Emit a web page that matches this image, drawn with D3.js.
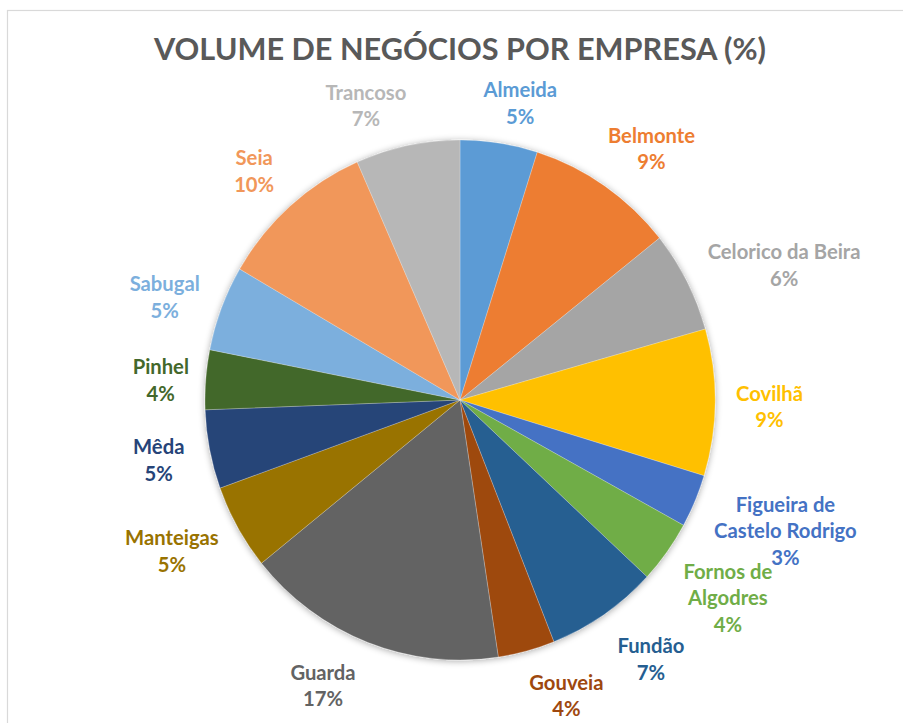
<!DOCTYPE html>
<html>
<head>
<meta charset="utf-8">
<script src="https://cdn.jsdelivr.net/npm/d3@7"></script>
<style>
  html, body { margin: 0; padding: 0; background: #ffffff; }
  svg { display: block; }
</style>
</head>
<body>
<svg id="chart" width="903" height="723"></svg>
<script>
// Turnover share by municipality (%)
const title = "VOLUME DE NEGÓCIOS POR EMPRESA (%)";
const categories = [
  "Almeida", "Belmonte", "Celorico da Beira", "Covilhã",
  "Figueira de Castelo Rodrigo", "Fornos de Algodres", "Fundão", "Gouveia",
  "Guarda", "Manteigas", "Mêda", "Pinhel", "Sabugal", "Seia", "Trancoso"
];
const shares = [4.9, 9.4, 6.3, 9.1, 3.3, 3.9, 7.1, 3.6, 16.6, 5.3, 4.9, 3.7, 5.3, 10.0, 6.6];
const colors = [
  "#5B9BD5", "#ED7D31", "#A5A5A5", "#FFC000", "#4472C4", "#70AD47", "#255E91", "#9E480E",
  "#636363", "#997300", "#264478", "#43682B", "#7CAFDD", "#F1975A", "#B7B7B7"
];
// Long names wrap onto two lines
const wrapped = {
  "Figueira de Castelo Rodrigo": ["Figueira de", "Castelo Rodrigo"],
  "Fornos de Algodres": ["Fornos de", "Algodres"]
};
// Small offsets that spread crowded labels away from each other
const labelNudge = [
  [13, 0], [13, -4], [15, 2], [5, 3], [10, 8], [12, 13], [19, 10], [26, 4],
  [-27, 4], [-11, 3], [-10, 2], [-1, 3], [-9, 3], [-12, -5], [-30, 0]
];

const svg = d3.select("#chart");
const cx = 460, cy = 400, rx = 255, ry = 260;
const fontFamily = "Lato, 'Open Sans', 'DejaVu Sans', sans-serif";

// chart frame
svg.append("rect")
  .attr("x", 7.5).attr("y", 10.5)
  .attr("width", 1000).attr("height", 1000)
  .attr("fill", "#ffffff")
  .attr("stroke", "#d9d9d9").attr("stroke-width", 1.2);

// soft shadow under the pie
const defs = svg.append("defs");
const f = defs.append("filter").attr("id", "pieShadow")
  .attr("x", "-20%").attr("y", "-20%").attr("width", "140%").attr("height", "140%");
f.append("feGaussianBlur").attr("in", "SourceAlpha").attr("stdDeviation", 3.5).attr("result", "b");
f.append("feOffset").attr("in", "b").attr("dx", 0).attr("dy", 1).attr("result", "o");
f.append("feComponentTransfer").attr("in", "o").attr("result", "s")
  .append("feFuncA").attr("type", "linear").attr("slope", 0.35);
const fm = f.append("feMerge");
fm.append("feMergeNode").attr("in", "s");
fm.append("feMergeNode").attr("in", "SourceGraphic");

// title, fitted to its width
const titleText = svg.append("text")
  .attr("x", 460).attr("y", 60)
  .attr("text-anchor", "middle")
  .attr("font-family", fontFamily)
  .attr("font-weight", 700)
  .attr("font-size", 100)
  .attr("fill", "#595959")
  .text(title);
const tw = titleText.node().getComputedTextLength();
titleText.attr("font-size", 100 * 612 / tw);

// pie
const data = categories.map((c, i) => ({ name: c, value: shares[i], color: colors[i], i }));
const total = d3.sum(shares);
const pie = d3.pie().sort(null).value(d => d.value);
const arcs = pie(data);
const arc = d3.arc().innerRadius(0).outerRadius(rx);

const pieG = svg.append("g")
  .attr("transform", `translate(${cx},${cy}) scale(1,${ry / rx})`)
  .attr("filter", "url(#pieShadow)");
pieG.selectAll("path")
  .data(arcs)
  .join("path")
  .attr("d", arc)
  .attr("fill", d => d.data.color)
  .attr("stroke", "#ffffff")
  .attr("stroke-width", 0.4)
  .attr("stroke-opacity", 0.6);

// label font size fitted to a reference name
const probe = svg.append("text")
  .attr("font-family", fontFamily).attr("font-weight", 700).attr("font-size", 100)
  .text("Celorico da Beira");
const labelSize = 100 * 153 / probe.node().getComputedTextLength();
probe.remove();
const lineH = 26.5;
const gap = 16;

const labels = svg.append("g");
arcs.forEach(a => {
  const lines = (wrapped[a.data.name] || [a.data.name])
    .concat([Math.round(a.data.value / total * 100) + "%"]);
  const t = labels.append("text")
    .attr("font-family", fontFamily)
    .attr("font-weight", 700)
    .attr("font-size", labelSize)
    .attr("fill", a.data.color)
    .attr("text-anchor", "middle");
  lines.forEach((ln, i) => {
    t.append("tspan").attr("x", 0).attr("y", (i - (lines.length - 1) / 2) * lineH)
      .attr("dominant-baseline", "central").text(ln);
  });
  const bb = t.node().getBBox();
  const mid = (a.startAngle + a.endAngle) / 2;
  const ux = Math.sin(mid), uy = -Math.cos(mid);
  const [nx, ny] = labelNudge[a.data.i];
  const x = cx + (rx + gap) * ux + (bb.width / 2) * ux + nx;
  const y = cy + (ry + gap) * uy + (bb.height / 2) * uy + ny;
  t.attr("transform", `translate(${x},${y})`);
});
</script>
</body>
</html>
